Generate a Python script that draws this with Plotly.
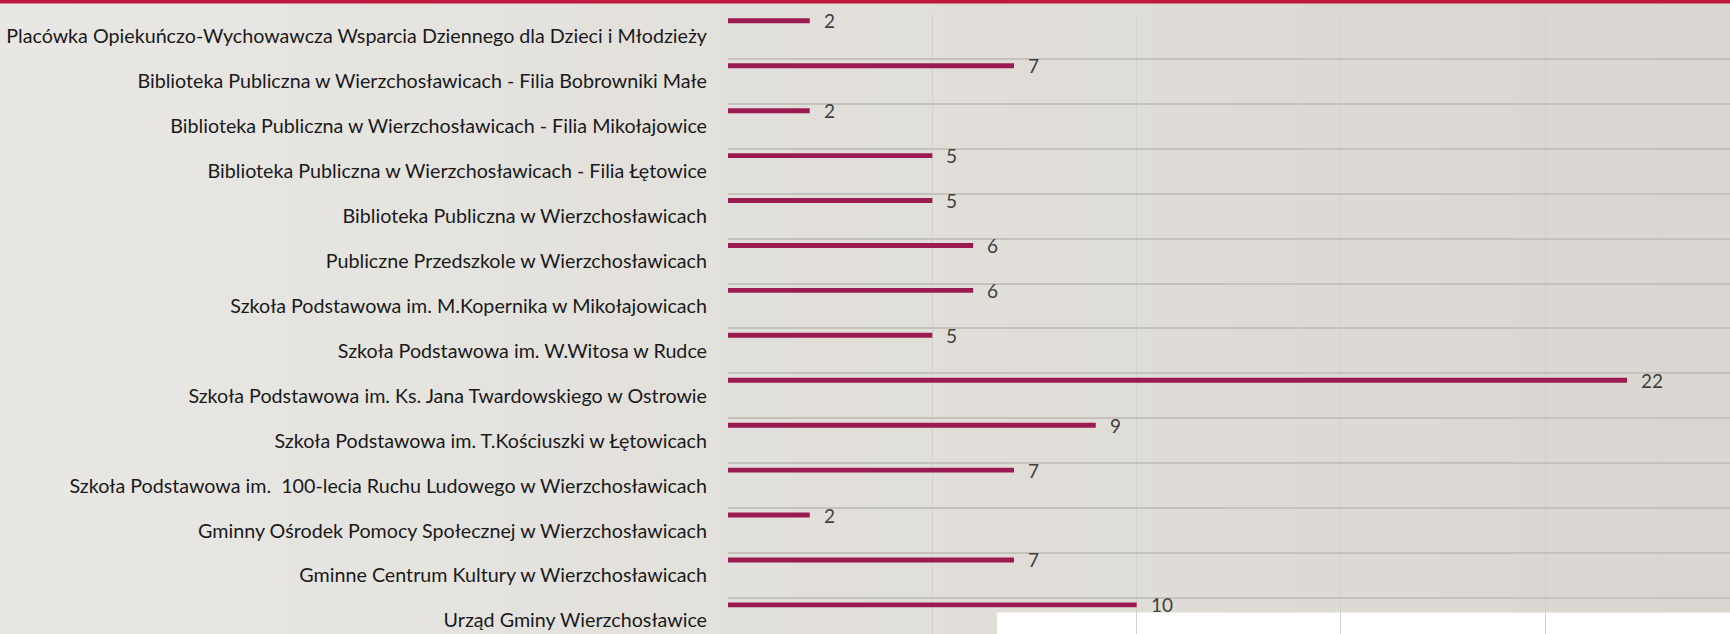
import plotly.graph_objects as go

categories = [
    "Placówka Opiekuńczo-Wychowawcza Wsparcia Dziennego dla Dzieci i Młodzieży",
    "Biblioteka Publiczna w Wierzchosławicach - Filia Bobrowniki Małe",
    "Biblioteka Publiczna w Wierzchosławicach - Filia Mikołajowice",
    "Biblioteka Publiczna w Wierzchosławicach - Filia Łętowice",
    "Biblioteka Publiczna w Wierzchosławicach",
    "Publiczne Przedszkole w Wierzchosławicach",
    "Szkoła Podstawowa im. M.Kopernika w Mikołajowicach",
    "Szkoła Podstawowa im. W.Witosa w Rudce",
    "Szkoła Podstawowa im. Ks. Jana Twardowskiego w Ostrowie",
    "Szkoła Podstawowa im. T.Kościuszki w Łętowicach",
    "Szkoła Podstawowa im.  100-lecia Ruchu Ludowego w Wierzchosławicach",
    "Gminny Ośrodek Pomocy Społecznej w Wierzchosławicach",
    "Gminne Centrum Kultury w Wierzchosławicach",
    "Urząd Gminy Wierzchosławice",
]
values = [2, 7, 2, 5, 5, 6, 6, 5, 22, 9, 7, 2, 7, 10]

BAR = "#9B1B50"
FONT = "Lato"
W, H = 1730, 634
ML, MT = 728, 14

fig = go.Figure()
fig.add_trace(go.Bar(
    x=values, y=categories, orientation="h",
    marker=dict(color=BAR, line=dict(width=0)),
    width=0.11, offset=-0.403,
    hoverinfo="x+y",
))

for c, v in zip(categories, values):
    fig.add_annotation(
        x=v, y=c, xref="x", yref="y", text=str(v), showarrow=False,
        xanchor="left", yanchor="middle", xshift=12, yshift=15.6,
        font=dict(family=FONT, size=19, color="#404040"),
    )

# soft horizontal background gradient (decorative strips)
pw = W - ML
ph = H - MT
x_left = -ML / pw
n = 24
c0 = (233, 231, 227)
c1 = (218, 215, 210)
for i in range(n):
    t = i / (n - 1)
    col = tuple(round(a + (b - a) * t) for a, b in zip(c0, c1))
    xa = x_left + (1 - x_left) * i / n
    xb = x_left + (1 - x_left) * (i + 1) / n + 0.002
    fig.add_shape(type="rect", xref="paper", yref="paper",
                  x0=xa, x1=xb, y0=-0.05, y1=1.05,
                  fillcolor="rgb(%d,%d,%d)" % col, line=dict(width=0),
                  layer="below")

# white area at the bottom right
fig.add_shape(type="rect", xref="x", yref="paper",
              x0=6.58, x1=30, y0=-0.05, y1=(H - 612.5) / ph,
              fillcolor="#FFFFFF", line=dict(width=0), layer="below")
# top accent line
fig.add_shape(type="rect", xref="paper", yref="paper",
              x0=x_left - 0.01, x1=1.01, y0=1 + (MT - 3.5) / ph, y1=1 + (MT + 2) / ph,
              fillcolor="#C0173F", line=dict(width=0), layer="above")

fig.update_layout(
    width=W, height=H,
    margin=dict(l=ML, r=0, t=MT, b=0),
    paper_bgcolor="#E3E1DD",
    plot_bgcolor="rgba(0,0,0,0)",
    showlegend=False,
    font=dict(family=FONT, size=19, color="#1A1A1A"),
    xaxis=dict(range=[0, 24.52], dtick=5, showgrid=True, gridcolor="#D3D1CC",
               gridwidth=1, zeroline=False, showline=False,
               showticklabels=False, ticks="", fixedrange=True),
    yaxis=dict(type="category", range=[13.3, -0.5], tickson="boundaries",
               showgrid=True, gridcolor="#C4C2BD", gridwidth=2,
               zeroline=False, showline=False,
               ticks="", ticklabelstandoff=20, fixedrange=True,
               tickfont=dict(family=FONT, size=19.7, color="#1A1A1A")),
)

fig.write_html("out.html", config={"displayModeBar": False},
               post_script="document.body.style.margin='0';document.body.style.overflow='hidden';")
